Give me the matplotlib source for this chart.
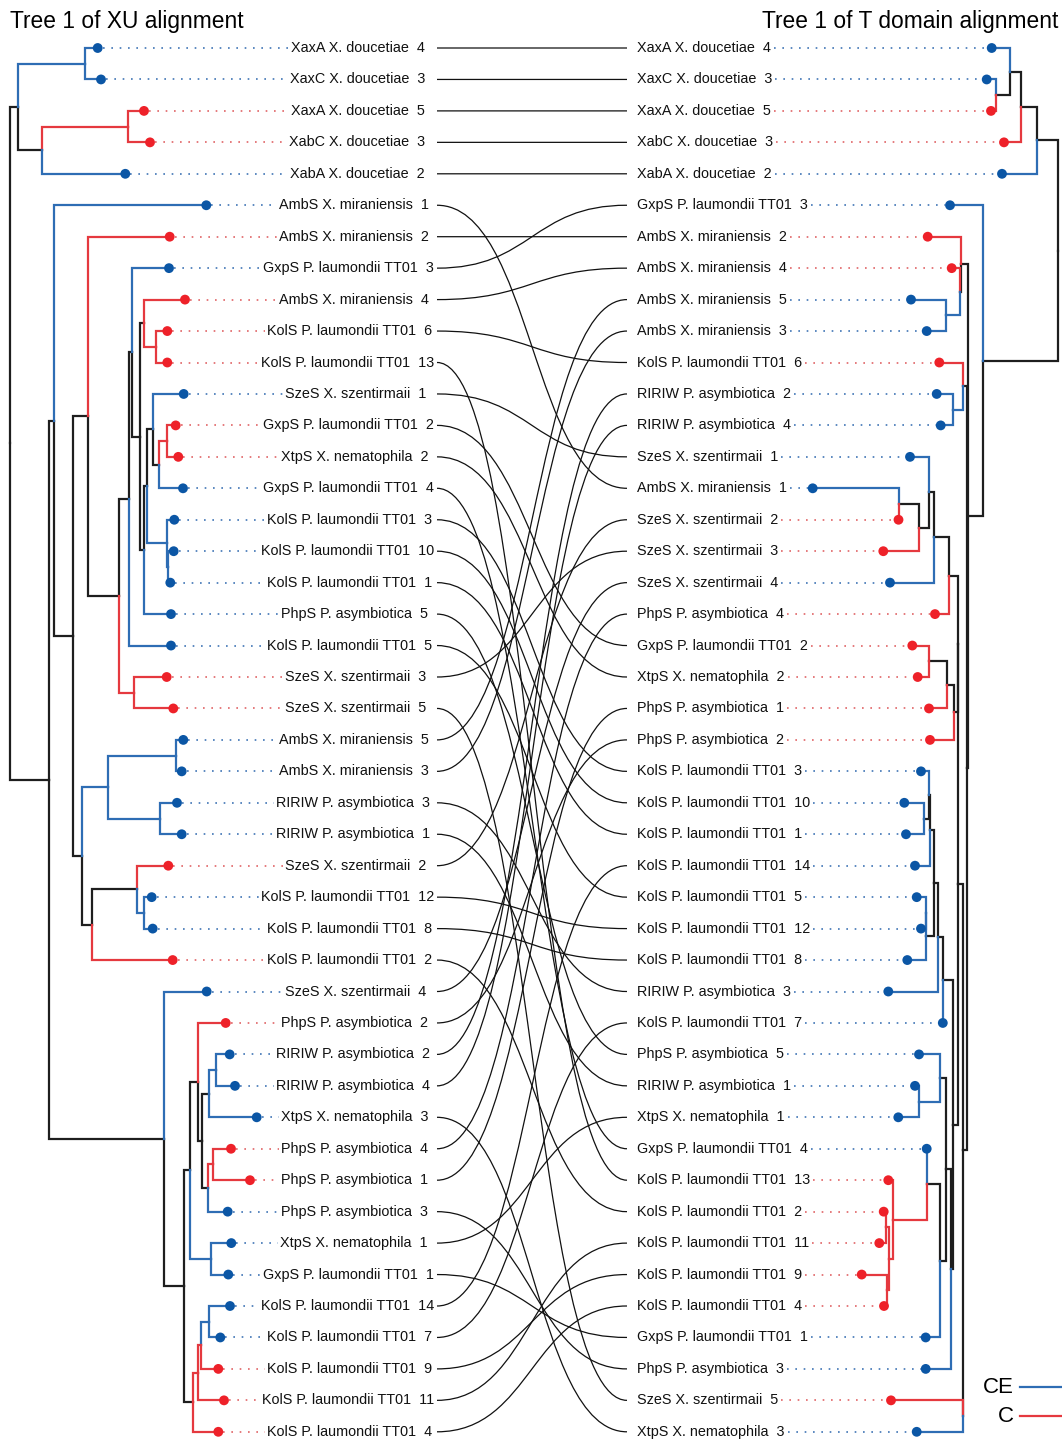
import matplotlib

matplotlib.use("Agg")
import matplotlib.pyplot as plt
from matplotlib.path import Path
from matplotlib.patches import PathPatch

plt.rcParams["font.family"] = ["Liberation Sans", "DejaVu Sans"]

# ---- data -----------------------------------------------------------------
LEFT_LABELS = [
    "XaxA X. doucetiae 4", "XaxC X. doucetiae 3", "XaxA X. doucetiae 5",
    "XabC X. doucetiae 3", "XabA X. doucetiae 2", "AmbS X. miraniensis 1",
    "AmbS X. miraniensis 2", "GxpS P. laumondii TT01 3", "AmbS X. miraniensis 4",
    "KolS P. laumondii TT01 6", "KolS P. laumondii TT01 13", "SzeS X. szentirmaii 1",
    "GxpS P. laumondii TT01 2", "XtpS X. nematophila 2", "GxpS P. laumondii TT01 4",
    "KolS P. laumondii TT01 3", "KolS P. laumondii TT01 10", "KolS P. laumondii TT01 1",
    "PhpS P. asymbiotica 5", "KolS P. laumondii TT01 5", "SzeS X. szentirmaii 3",
    "SzeS X. szentirmaii 5", "AmbS X. miraniensis 5", "AmbS X. miraniensis 3",
    "RIRIW P. asymbiotica 3", "RIRIW P. asymbiotica 1", "SzeS X. szentirmaii 2",
    "KolS P. laumondii TT01 12", "KolS P. laumondii TT01 8", "KolS P. laumondii TT01 2",
    "SzeS X. szentirmaii 4", "PhpS P. asymbiotica 2", "RIRIW P. asymbiotica 2",
    "RIRIW P. asymbiotica 4", "XtpS X. nematophila 3", "PhpS P. asymbiotica 4",
    "PhpS P. asymbiotica 1", "PhpS P. asymbiotica 3", "XtpS X. nematophila 1",
    "GxpS P. laumondii TT01 1", "KolS P. laumondii TT01 14", "KolS P. laumondii TT01 7",
    "KolS P. laumondii TT01 9", "KolS P. laumondii TT01 11", "KolS P. laumondii TT01 4",
]
RIGHT_LABELS = [
    "XaxA X. doucetiae 4", "XaxC X. doucetiae 3", "XaxA X. doucetiae 5",
    "XabC X. doucetiae 3", "XabA X. doucetiae 2", "GxpS P. laumondii TT01 3",
    "AmbS X. miraniensis 2", "AmbS X. miraniensis 4", "AmbS X. miraniensis 5",
    "AmbS X. miraniensis 3", "KolS P. laumondii TT01 6", "RIRIW P. asymbiotica 2",
    "RIRIW P. asymbiotica 4", "SzeS X. szentirmaii 1", "AmbS X. miraniensis 1",
    "SzeS X. szentirmaii 2", "SzeS X. szentirmaii 3", "SzeS X. szentirmaii 4",
    "PhpS P. asymbiotica 4", "GxpS P. laumondii TT01 2", "XtpS X. nematophila 2",
    "PhpS P. asymbiotica 1", "PhpS P. asymbiotica 2", "KolS P. laumondii TT01 3",
    "KolS P. laumondii TT01 10", "KolS P. laumondii TT01 1", "KolS P. laumondii TT01 14",
    "KolS P. laumondii TT01 5", "KolS P. laumondii TT01 12", "KolS P. laumondii TT01 8",
    "RIRIW P. asymbiotica 3", "KolS P. laumondii TT01 7", "PhpS P. asymbiotica 5",
    "RIRIW P. asymbiotica 1", "XtpS X. nematophila 1", "GxpS P. laumondii TT01 4",
    "KolS P. laumondii TT01 13", "KolS P. laumondii TT01 2", "KolS P. laumondii TT01 11",
    "KolS P. laumondii TT01 9", "KolS P. laumondii TT01 4", "GxpS P. laumondii TT01 1",
    "PhpS P. asymbiotica 3", "SzeS X. szentirmaii 5", "XtpS X. nematophila 3",
]

# leaf states: E = CE domain, C = C domain
LEFT_STATES = "EECCE" "ECECC" "CECCE" "EEEEE" "CCEEE" "ECEEC" "ECEEE" "CCEEE" "EECCC"
RIGHT_STATES = "EECCE" "ECCEE" "CEEEE" "CCECC" "CCCEE" "EEEEE" "EEEEE" "ECCCC" "CEECE"

# distance of each tip from the root
LEFT_TIP_DEPTH = [
    87.7, 91.0, 134.0, 140.0, 115.3, 196.3, 159.7, 159.0, 175.0, 157.3,
    157.3, 173.7, 165.7, 168.3, 173.0, 164.3, 163.7, 160.3, 161.0, 161.0,
    156.7, 163.3, 173.3, 171.7, 167.0, 171.7, 158.3, 141.7, 142.7, 162.7,
    196.7, 215.7, 219.7, 225.0, 246.7, 221.0, 240.0, 217.7, 221.3, 218.3,
    220.0, 210.3, 208.3, 214.0, 208.3,
]
RIGHT_TIP_DEPTH = [
    66.3, 71.3, 67.0, 54.0, 56.0, 108.0, 130.3, 106.3, 147.0, 131.3,
    118.7, 121.3, 117.3, 148.0, 245.3, 159.5, 174.7, 168.0, 123.0, 145.7,
    140.3, 129.0, 128.0, 137.0, 153.7, 152.0, 143.0, 141.3, 137.0, 150.7,
    169.7, 115.2, 139.0, 143.0, 159.7, 131.3, 169.7, 174.3, 178.7, 196.3,
    174.0, 132.3, 132.3, 167.0, 141.3,
]

# internal nodes: (name, depth, child, child, state); ints are leaf indices
LEFT_NODES = [
    ("root", 0.0, "n17", "n49", ""), ("n17", 7.7, "n85", "n42", ""),
    ("n85", 75.0, 0, 1, "E"), ("n42", 31.7, "n127", 4, ""),
    ("n127", 117.7, 2, 3, "C"), ("n49", 39.0, "n54", "n164", ""),
    ("n54", 44.0, 5, "n73", ""), ("n73", 63.3, "n88", "n82", ""),
    ("n88", 78.3, 6, "n119", ""), ("n119", 109.0, "n129", "n134", ""),
    ("n129", 119.3, "n132", 19, ""), ("n132", 122.3, 7, "n140", ""),
    ("n140", 130.0, "n144r", "n144b", ""), ("n144r", 134.0, 8, "n155", ""),
    ("n155", 145.7, 9, 10, "C"), ("n144b", 134.0, "n147", 18, ""),
    ("n147", 137.0, "n153", "n167", ""), ("n153", 143.3, 11, "n159", ""),
    ("n159", 149.0, "n166", 14, ""), ("n166", 156.7, 12, 13, "C"),
    ("n167", 156.7, 15, "n168", "E"), ("n168", 158.3, 16, 17, "E"),
    ("n134", 124.3, 20, 21, "C"), ("n82", 72.3, "n108", "n92", ""),
    ("n108", 97.7, "n176", "n160", "E"), ("n176", 165.7, 22, 23, "E"),
    ("n160", 150.0, 24, 25, "E"), ("n92", 82.3, "n137", 29, ""),
    ("n137", 127.0, 26, "n144c", ""), ("n144c", 134.0, 27, 28, "E"),
    ("n164", 154.3, 30, "n184", ""), ("n184", 173.7, "n190", "n193", ""),
    ("n190", 180.0, "n198", "n211", ""), ("n198", 188.0, 31, "n202", ""),
    ("n202", 192.0, "n209", "n208", ""), ("n209", 199.3, "n216", 34, ""),
    ("n216", 206.0, 32, 33, "E"), ("n208", 197.7, "n213", 37, ""),
    ("n213", 202.7, 35, 36, "C"), ("n211", 201.0, 38, 39, "E"),
    ("n193", 183.3, "n198b", 44, ""), ("n198b", 188.0, "n201", 43, "C"),
    ("n201", 191.0, "n209b", 42, "C"), ("n209b", 199.3, 40, 41, "E"),
]
RIGHT_NODES = [
    ("root", 0.0, "r1037", "r983", ""), ("r1037", 21.3, "r1021", 4, ""),
    ("r1021", 37.0, "r1010", 3, ""), ("r1010", 48.0, 0, "r996", ""),
    ("r996", 62.0, 1, 2, ""), ("r983", 75.3, 5, "r968", ""),
    ("r968", 89.7, "r961", "r966", ""), ("r961", 96.7, 6, "rX", ""),
    ("rX", 97.7, 7, "r946", ""), ("r946", 112.0, 8, 9, "E"),
    ("r966", 91.3, "r963", "rL", ""), ("r963", 95.3, 10, "r953", ""),
    ("r953", 104.7, 11, 12, "E"), ("rL", 95.0, "rU", "r4344", ""),
    ("r4344", 95.5, 43, 44, ""), ("rU", 99.7, "r958a", "r953b", ""),
    ("r958a", 100.0, "r949", "r954", ""), ("r949", 109.0, "r934a", 18, ""),
    ("r934a", 124.0, "r929a", 17, ""), ("r929a", 129.0, 13, "r919", ""),
    ("r919", 138.7, "r899", 16, ""), ("r899", 158.7, 14, 15, ""),
    ("r954", 103.7, "r947", 22, ""), ("r947", 111.3, "r929c", 21, ""),
    ("r929c", 129.0, 19, 20, ""), ("r953b", 104.7, "r943", "r951", ""),
    ("r943", 114.7, "r938", 31, ""), ("r938", 119.7, "r934", 30, ""),
    ("r934", 124.0, "rA2", "r926a", ""), ("rA2", 128.0, "rA1", 26, ""),
    ("rA1", 128.7, 23, "r924", ""), ("r924", 134.0, 24, 25, ""),
    ("r926a", 131.7, "r926b", 29, ""), ("r926b", 132.3, 27, 28, "E"),
    ("r951", 107.0, "r946b", 42, ""), ("r946b", 112.0, "r940a", "r940b", ""),
    ("r940a", 118.0, 32, "r919b", ""), ("r919b", 138.7, 33, 34, "E"),
    ("r940b", 118.0, "r927", 41, ""), ("r927", 130.7, 35, "r892", ""),
    ("r892", 165.0, 36, "r888", "C"), ("r888", 169.0, "r884", "r886", "C"),
    ("r884", 172.5, 37, 38, "C"), ("r886", 171.0, 39, 40, "C"),
]

# ---- style ----------------------------------------------------------------
BRANCH = {"E": "#2e6db4", "C": "#e5393f", "": "#1e1e1e"}
DOT = {"E": "#0b56a5", "C": "#ee2129"}
LEADER = {"E": "#3f74b5", "C": "#e06466"}

W, H = 1062, 1442
TOP, STEP = 48.0, 31.45
LEFT_ROOT, RIGHT_ROOT = 10.0, 1058.0
LEFT_ANCHOR, LEFT_HJUST = 392.2, 0.757
RIGHT_TEXT_X = 637.0
LINK_X0, LINK_X1 = 437.0, 627.0
LABEL_SIZE = 10.4


def draw_tree(ax, nodes, tip_depth, states, to_x):
    info = {n[0]: n[1:] for n in nodes}
    ys = {}

    def ypos(k):
        if isinstance(k, int):
            return float(k)
        if k not in ys:
            _, a, b, _ = info[k]
            ys[k] = (ypos(a) + ypos(b)) / 2
        return ys[k]

    def depth(k):
        return tip_depth[k] if isinstance(k, int) else info[k][0]

    def state(k):
        return states[k] if isinstance(k, int) else info[k][3]

    for name, d, a, b, _ in nodes:
        px, py = to_x(d), ypos(name)
        for c in (a, b):
            st = state(c)
            cx, cy = to_x(depth(c)), ypos(c)
            ax.plot([px, px, cx], [py, cy, cy], color=BRANCH[st], lw=1.6,
                    solid_joinstyle="miter", solid_capstyle="projecting",
                    zorder=2 if st else 1.5)

    xs = [to_x(d) for d in tip_depth]
    ax.scatter(xs, range(len(xs)), s=50, c=[DOT[s] for s in states],
               zorder=4, linewidths=0)
    return xs


fig = plt.figure(figsize=(W / 100, H / 100), dpi=100)
ax = fig.add_axes([0, 0, 1, 1])
ax.set_xlim(0, W)
ax.set_ylim(44 + (H - TOP - 44 * STEP) / STEP, -TOP / STEP)
ax.axis("off")

left_tips = draw_tree(ax, LEFT_NODES, LEFT_TIP_DEPTH, LEFT_STATES,
                      lambda d: LEFT_ROOT + d)
right_tips = draw_tree(ax, RIGHT_NODES, RIGHT_TIP_DEPTH, RIGHT_STATES,
                       lambda d: RIGHT_ROOT - d)


def label_text(s):
    name, num = s.rsplit(" ", 1)
    return f"{name}  {num}"


renderer = fig.canvas.get_renderer()

# x axis is 1 data unit per pixel, so text widths can be used directly
for i, lab in enumerate(LEFT_LABELS):
    t = ax.text(0, i, label_text(lab), ha="left", va="center",
                fontsize=LABEL_SIZE, color="#111111")
    w = t.get_window_extent(renderer).width
    x_start = LEFT_ANCHOR - LEFT_HJUST * w
    t.set_x(x_start)
    ax.plot([left_tips[i] + 5, x_start - 2], [i, i], ls=(0, (1, 4)), lw=1.2,
            color=LEADER[LEFT_STATES[i]], zorder=1)

for i, lab in enumerate(RIGHT_LABELS):
    t = ax.text(RIGHT_TEXT_X, i, label_text(lab), ha="left", va="center",
                fontsize=LABEL_SIZE, color="#111111")
    x_end = RIGHT_TEXT_X + t.get_window_extent(renderer).width
    ax.plot([x_end + 3, right_tips[i] - 5], [i, i], ls=(0, (1, 4)), lw=1.2,
            color=LEADER[RIGHT_STATES[i]], zorder=1)

# links between the same gene in both trees
xm = (LINK_X0 + LINK_X1) / 2
for i, lab in enumerate(LEFT_LABELS):
    j = RIGHT_LABELS.index(lab)
    verts = [(LINK_X0, i), (xm, i), (xm, j), (LINK_X1, j)]
    path = Path(verts, [Path.MOVETO, Path.CURVE4, Path.CURVE4, Path.CURVE4])
    ax.add_patch(PathPatch(path, fc="none", ec="#111111", lw=0.9))

# titles
title_y = (21 - TOP) / STEP
ax.text(10, title_y, "Tree 1 of XU alignment", fontsize=16.4, ha="left", va="center")
ax.text(1058, title_y, "Tree 1 of T domain alignment", fontsize=16.4, ha="right",
        va="center")

# legend
for lab, st, ypx in (("CE", "E", 1387), ("C", "C", 1416)):
    yy = (ypx - TOP) / STEP
    ax.text(1014, yy, lab, fontsize=16, ha="right", va="center")
    ax.plot([1020, 1062], [yy, yy], color=BRANCH[st], lw=1.6)

fig.savefig("out.png", dpi=100)
